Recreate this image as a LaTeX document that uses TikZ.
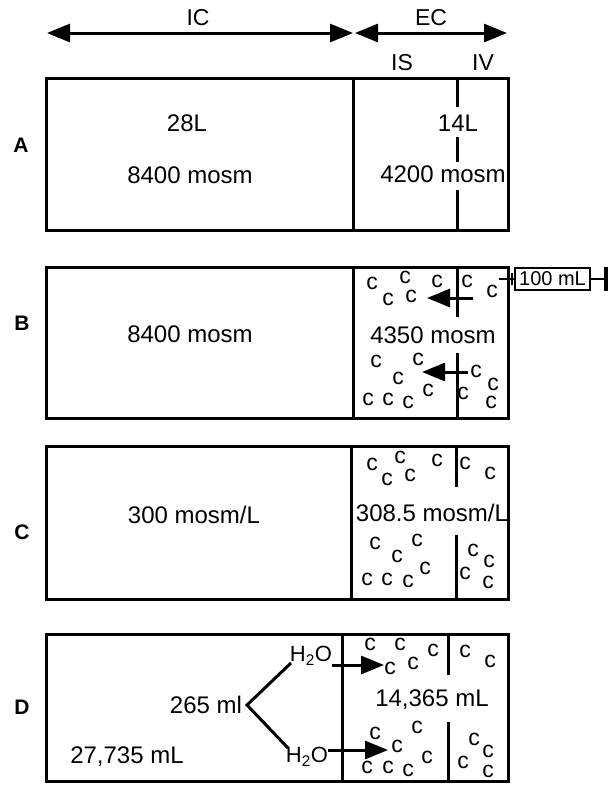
\documentclass[tikz,border=0pt]{standalone}
\usepackage{fontspec}
\setmainfont{Liberation Sans}
\usetikzlibrary{arrows.meta}
\tikzset{
  wall/.style={line width=3pt, line cap=rect},
  big/.style={inner sep=0pt, font=\fontsize{24}{28}\selectfont},
  lab/.style={inner sep=0pt, font=\fontsize{21}{24}\selectfont\bfseries},
  cc/.style={inner sep=0pt, font=\fontsize{23}{26}\selectfont},
  hdr/.style={inner sep=0pt, font=\fontsize{23}{26}\selectfont},
  flow/.style={line width=3pt, -{Triangle[length=23pt,width=18pt]}},
  span/.style={line width=3pt, {Triangle[length=23pt,width=18pt]}-{Triangle[length=23pt,width=18pt]}},
}
\begin{document}
\begin{tikzpicture}[x=1pt,y=-1pt]
\useasboundingbox (0,0) rectangle (612,788);
% header
\coordinate (icL) at (47,33); \coordinate (icR) at (353,33);
\coordinate (ecL) at (355,33); \coordinate (ecR) at (507,33);
\draw[span] (icL) -- (icR);
\draw[span] (ecL) -- (ecR);
\node[hdr] (IC) at (198,18) {IC};
\node[hdr] (EC) at (431,18) {EC};
\node[hdr] (IS) at (402,63) {IS};
\node[hdr] (IV) at (483,63) {IV};

% ---------- A ----------
\draw[wall] (46,78) rectangle (508,230);
\draw[wall] (353,78) -- (353,230);
\draw[wall,line cap=butt] (457,78) -- (457,107);
\draw[wall,line cap=butt] (457,137) -- (457,162);
\draw[wall,line cap=butt] (457,190) -- (457,230);
\node[lab] (lA) at (21,145) {A};
\node[big] (a1) at (187,123) {28L};
\node[big] (a2) at (190,175) {8400 mosm};
\node[big] (a3) at (458,123) {14L};
\node[big] (a4) at (443,174) {4200 mosm};

% ---------- B ----------
\draw[wall] (46,267) rectangle (508,418);
\draw[wall] (353,267) -- (353,418);
\draw[wall,line cap=butt] (457,267) -- (457,317);
\draw[wall,line cap=butt] (457,353) -- (457,418);
\node[lab] (lB) at (22,323) {B};
\node[big] (b1) at (190,334) {8400 mosm};
\node[big] (b2) at (433,335) {4350 mosm};
\foreach \p [count=\i] in {(372,283),(405,277),(437,281),(388,299),(411,296),
  (467,281),(492,291),
  (376,361),(418,359),(398,378),(428,390),(368,399),(388,399),(408,402),
  (476,371),(463,393),(493,384),(491,402)}
  \node[cc] (cB\i) at \p {c};
\coordinate (bu1) at (473,298); \coordinate (bu2) at (427,298);
\coordinate (bl1) at (468,372); \coordinate (bl2) at (422,372);
\draw[flow] (bu1) -- (bu2);
\draw[flow] (bl1) -- (bl2);
% syringe
\node[draw, line width=2.4pt, inner sep=1pt, minimum height=22pt, minimum width=75pt,
      font=\fontsize{20}{22}\selectfont] (syr) at (552.5,279) {100 mL};
\coordinate (needle) at (499,279);
\coordinate (plunger) at (606,279);
\draw[line width=2.4pt] (needle) -- (syr.west);
\draw[line width=2.2pt] (512,273) -- (512,285);
\draw[line width=2.4pt] (syr.east) -- (plunger);
\draw[line width=4pt] (606,267) -- (606,291);

% ---------- C ----------
\draw[wall] (46,446) rectangle (508,599);
\draw[wall] (351,446) -- (351,599);
\draw[wall,line cap=butt] (456,446) -- (456,487);
\draw[wall,line cap=butt] (456,535) -- (456,599);
\node[lab] (lC) at (22,532) {C};
\node[big] (c1) at (194,515) {300 mosm/L};
\node[big] (c2) at (432,513) {308.5 mosm/L};
\foreach \p [count=\i] in {(372,464),(400,457),(437,460),(387,479),(410,475),
  (465,463),(490,473),
  (375,543),(417,540),(397,556),(425,568),(367,579),(387,579),(408,581),
  (473,550),(465,573),(489,561),(488,582)}
  \node[cc] (cC\i) at \p {c};

% ---------- D ----------
\draw[wall] (46,634) rectangle (508,781);
\draw[wall] (342,634) -- (342,781);
\draw[wall,line cap=butt] (448,634) -- (448,675);
\draw[wall,line cap=butt] (448,722) -- (448,781);
\node[lab] (lD) at (22,707) {D};
\node[big] (d1) at (206,705) {265 ml};
\node[big] (d2) at (127,757) {27,735 mL};
\node[big] (d3) at (432,700) {14,365 mL};
\node[inner sep=0pt, font=\fontsize{22}{24}\selectfont] (h1) at (311,656) {H\textsubscript{2}O};
\node[inner sep=0pt, font=\fontsize{22}{24}\selectfont] (h2) at (307,757) {H\textsubscript{2}O};
\coordinate (fork) at (247,705);
\coordinate (fu) at (291,663);
\coordinate (fl) at (288,748);
\draw[line width=3pt, line join=miter] (fu) -- (fork) -- (fl);
\coordinate (du1) at (332,665); \coordinate (du2) at (384,665);
\coordinate (dl1) at (328,750); \coordinate (dl2) at (388,750);
\draw[flow] (du1) -- (du2);
\draw[flow] (dl1) -- (dl2);
\foreach \p [count=\i] in {(370,644),(400,644),(433,650),(390,668),(413,663),
  (465,651),(490,661),
  (375,733),(417,727),(397,746),(427,757),(367,767),(388,767),(408,770),
  (474,739),(463,762),(488,751),(488,771)}
  \node[cc] (cD\i) at \p {c};
\end{tikzpicture}
\end{document}
